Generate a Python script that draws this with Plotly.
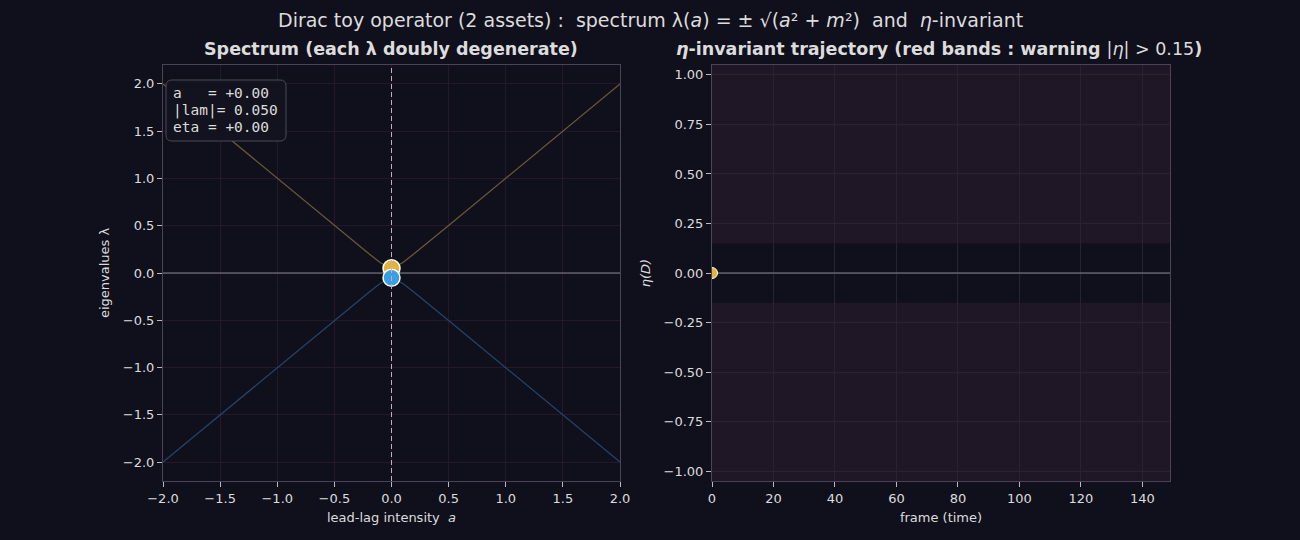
import plotly.graph_objects as go

# ---- data ----
a_grid = [-2.0, -1.5, -1.0, -0.5, -0.2, -0.1, 0.0, 0.1, 0.2, 0.5, 1.0, 1.5, 2.0]
lam_pos = [2.0, 1.5, 1.0, 0.502, 0.206, 0.112, 0.05, 0.112, 0.206, 0.502, 1.0, 1.5, 2.0]
lam_neg = [-v for v in lam_pos]
a_now = [0.0]
lam_now_pos = [0.05]
lam_now_neg = [-0.05]
frames = [0]
eta_vals = [0.0]
warn = 0.15
a_range = [-2, 2]
frame_range = [0, 149]

BG = "#10101c"
TXT = "#dcdcdc"
GOLD = "#e2b43c"
BLUE = "#3a9ee2"
W, H = 1300, 540

def px(x):
    return x / W

def py(y):
    return 1 - y / H

fig = go.Figure()

# zero lines (as traces, under the markers)
fig.add_trace(go.Scatter(x=a_range, y=[0, 0], mode="lines", line=dict(color="#85858f", width=1),
                         xaxis="x", yaxis="y", showlegend=False, hoverinfo="skip"))
fig.add_trace(go.Scatter(x=frame_range, y=[0, 0], mode="lines", line=dict(color="#85858f", width=1),
                         xaxis="x2", yaxis="y2", showlegend=False, hoverinfo="skip"))

fig.add_trace(go.Scatter(x=a_grid, y=lam_pos, mode="lines", line=dict(color="#6b5a36", width=1.2),
                         xaxis="x", yaxis="y", showlegend=False, hoverinfo="skip"))
fig.add_trace(go.Scatter(x=a_grid, y=lam_neg, mode="lines", line=dict(color="#24466c", width=1.2),
                         xaxis="x", yaxis="y", showlegend=False, hoverinfo="skip"))
fig.add_trace(go.Scatter(x=a_now, y=lam_now_pos, mode="markers",
                         marker=dict(color=GOLD, size=17, line=dict(color="white", width=1.5)),
                         xaxis="x", yaxis="y", showlegend=False))
fig.add_trace(go.Scatter(x=a_now, y=lam_now_neg, mode="markers",
                         marker=dict(color=BLUE, size=17, line=dict(color="white", width=1.5)),
                         xaxis="x", yaxis="y", showlegend=False))
fig.add_trace(go.Scatter(x=frames, y=eta_vals, mode="markers",
                         marker=dict(color=GOLD, size=11, line=dict(color="white", width=1)),
                         xaxis="x2", yaxis="y2", showlegend=False, cliponaxis=True))

tickfont = dict(family="DejaVu Sans", size=13, color=TXT)
common = dict(showline=True, mirror=True, linecolor="#4a4256", linewidth=1,
              ticks="outside", ticklen=5, tickcolor="#bbbbbb", tickfont=tickfont,
              zeroline=False, automargin=False)

fig.update_layout(
    width=W, height=H, margin=dict(l=0, r=0, t=0, b=0, autoexpand=False),
    paper_bgcolor=BG, plot_bgcolor=BG,
    font=dict(family="DejaVu Sans", color=TXT),
    xaxis=dict(domain=[px(163), px(620)], range=a_range, anchor="y",
               tickvals=[-2, -1.5, -1, -0.5, 0, 0.5, 1, 1.5, 2],
               ticktext=["−2.0", "−1.5", "−1.0", "−0.5", "0.0", "0.5", "1.0", "1.5", "2.0"],
               gridcolor="#26182a", title=dict(text="lead-lag intensity  <i>a</i>", font=dict(size=13, color=TXT), standoff=8),
               **common),
    yaxis=dict(domain=[py(481), py(65)], range=[-2.2, 2.2], anchor="x",
               tickvals=[-2, -1.5, -1, -0.5, 0, 0.5, 1, 1.5, 2],
               ticktext=["−2.0", "−1.5", "−1.0", "−0.5", "0.0", "0.5", "1.0", "1.5", "2.0"],
               gridcolor="#26182a", title=dict(text="eigenvalues λ", font=dict(size=13, color=TXT), standoff=10),
               **common),
    xaxis2=dict(domain=[px(712), px(1170)], range=frame_range, anchor="y2",
                tickvals=[0, 20, 40, 60, 80, 100, 120, 140],
                gridcolor="#272333", title=dict(text="frame (time)", font=dict(size=13, color=TXT), standoff=8),
                **common),
    yaxis2=dict(domain=[py(481), py(65)], range=[-1.05, 1.05], anchor="x2",
                tickvals=[-1, -0.75, -0.5, -0.25, 0, 0.25, 0.5, 0.75, 1],
                ticktext=["−1.00", "−0.75", "−0.50", "−0.25", "0.00", "0.25", "0.50", "0.75", "1.00"],
                gridcolor="#272333", title=dict(text="<i>η(D)</i>", font=dict(size=13, color=TXT), standoff=10),
                **common),
)

# warning bands
fig.add_shape(type="rect", xref="x2 domain", yref="y2", x0=0, x1=1, y0=warn, y1=1.05,
              fillcolor="#1f1626", line=dict(width=0), layer="below")
fig.add_shape(type="rect", xref="x2 domain", yref="y2", x0=0, x1=1, y0=-1.05, y1=-warn,
              fillcolor="#1f1626", line=dict(width=0), layer="below")
# dashed vertical line at a = 0
fig.add_shape(type="line", xref="x", yref="y domain", x0=0, x1=0, y0=0, y1=1,
              line=dict(color="#c0aec6", width=1, dash="5px,3px"), layer="above")

# info box (rounded)
x0, x1, y0, y1, r = 166, 286, 80, 141, 6
path = (f"M {px(x0+r)} {py(y0)} L {px(x1-r)} {py(y0)} Q {px(x1)} {py(y0)} {px(x1)} {py(y0+r)} "
        f"L {px(x1)} {py(y1-r)} Q {px(x1)} {py(y1)} {px(x1-r)} {py(y1)} "
        f"L {px(x0+r)} {py(y1)} Q {px(x0)} {py(y1)} {px(x0)} {py(y1-r)} "
        f"L {px(x0)} {py(y0+r)} Q {px(x0)} {py(y0)} {px(x0+r)} {py(y0)} Z")
fig.add_shape(type="path", xref="paper", yref="paper", path=path,
              fillcolor="#13131f", line=dict(color="#4a4a58", width=1), layer="above")

box_lines = [f"a   = {a_now[0]:+.2f}", f"|lam|= {lam_now_pos[0]:.3f}", f"eta = {eta_vals[0]:+.2f}"]
for i, t in enumerate(box_lines):
    fig.add_annotation(xref="paper", yref="paper", x=px(171), y=py(93 + 17 * i), xanchor="left", yanchor="middle",
                       text=t.replace(" ", "&nbsp;"), showarrow=False, align="left",
                       font=dict(family="DejaVu Sans Mono", size=14.5, color=TXT))

# titles
fig.add_annotation(xref="paper", yref="paper", x=px(650), y=py(20), xanchor="center", yanchor="middle",
                   text="Dirac toy operator (2 assets) :  spectrum λ(<i>a</i>) = ± √(<i>a</i>² + <i>m</i>²)  and  <i>η</i>-invariant",
                   showarrow=False, font=dict(size=19, color=TXT))
fig.add_annotation(xref="paper", yref="paper", x=px(391), y=py(49), xanchor="center", yanchor="middle",
                   text="<b>Spectrum (each λ doubly degenerate)</b>",
                   showarrow=False, font=dict(size=17.5, color=TXT))
fig.add_annotation(xref="paper", yref="paper", x=px(939), y=py(49), xanchor="center", yanchor="middle",
                   text="<b><i>η</i>-invariant trajectory (red bands : warning </b>|<i>η</i>| > 0.15<b>)</b>",
                   showarrow=False, font=dict(size=17.5, color=TXT))

fig.write_html("out.html")
